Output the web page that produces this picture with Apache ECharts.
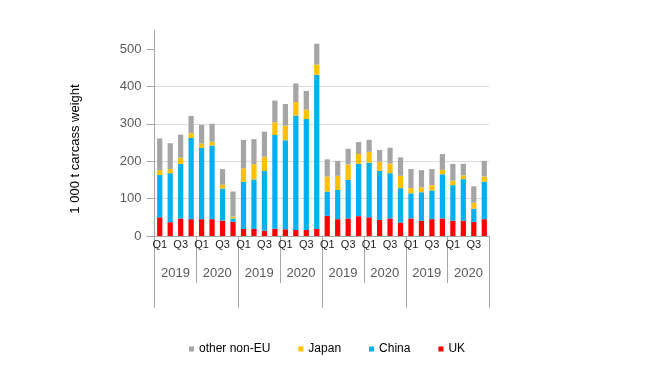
<!DOCTYPE html>
<html>
<head>
<meta charset="utf-8">
<script src="https://cdn.jsdelivr.net/npm/echarts@6/dist/echarts.min.js"></script>
<style>html,body{margin:0;padding:0;background:#fff;}#c{width:650px;height:366px;}</style>
</head>
<body>
<div id="c"></div>
<script>
var quarters = ['Q1','Q2','Q3','Q4','Q1','Q2','Q3','Q4','Q1','Q2','Q3','Q4','Q1','Q2','Q3','Q4','Q1','Q2','Q3','Q4','Q1','Q2','Q3','Q4','Q1','Q2','Q3','Q4','Q1','Q2','Q3','Q4'];
var years = ['2019','2020','2019','2020','2019','2020','2019','2020'];
var groups = ['', '', '', ''];
var yTicks = [0, 100, 200, 300, 400, 500];
var uk = [50,37,47,45,45,45,41,38, 19,19,14,19,18,16,16,19, 54,45,47,53,50,43,47,36, 47,41,45,47,41,41,38,45];
var china = [113,131,146,217,191,197,86,9, 126,132,160,251,238,306,297,412, 65,78,103,140,146,131,121,92, 67,76,77,118,95,111,35,100];
var japan = [13,11,16,13,11,10,10,5, 36,41,38,34,39,36,25,27, 40,38,41,26,29,25,26,33, 14,13,14,12,12,10,16,14];
var other = [85,69,62,46,50,48,42,67, 76,67,67,58,58,50,50,56, 46,40,42,32,32,31,42,49, 51,46,43,42,45,31,44,42];

var FONT = '"Liberation Sans", Arial, sans-serif';
var chart = echarts.init(document.getElementById('c'), null, {renderer: 'canvas'});
var axisGray = '#a6a6a6';
var barW = '50%';
chart.setOption({
  animation: false,
  textStyle: {fontFamily: FONT},
  grid: {left: 154.5, right: 160.5, top: 30.3, bottom: 130},
  legend: {
    left: 184, top: 338,
    icon: 'rect', itemWidth: 5, itemHeight: 5, itemGap: 28, itemTextGap: 5,
    textStyle: {fontSize: 12, color: '#000', fontFamily: FONT},
    data: ['other non-EU', 'Japan', 'China', 'UK']
  },
  graphic: [{
    type: 'text', x: 75, y: 149, rotation: Math.PI / 2,
    style: {text: '1 000 t carcass weight', fontSize: 13, fill: '#000', fontFamily: FONT, align: 'center', verticalAlign: 'middle'}
  }],
  xAxis: [{
    type: 'category', data: quarters, position: 'bottom',
    axisLine: {lineStyle: {color: axisGray}},
    axisTick: {show: false},
    axisLabel: {interval: 1, fontSize: 11, color: '#222', margin: 3, fontFamily: FONT}
  }, {
    type: 'category', data: years, position: 'bottom',
    axisLine: {show: false},
    axisTick: {show: true, length: 47, lineStyle: {color: axisGray}},
    axisLabel: {fontSize: 13, color: '#595959', margin: 31, fontFamily: FONT}
  }, {
    type: 'category', data: groups, position: 'bottom',
    axisLine: {show: false},
    axisTick: {show: true, length: 72, lineStyle: {color: axisGray}},
    axisLabel: {show: false}
  }],
  yAxis: {
    type: 'value', min: 0, max: 550, interval: 100,
    axisLine: {show: true, lineStyle: {color: axisGray}},
    axisTick: {show: true, length: 8, customValues: yTicks, lineStyle: {color: axisGray}},
    axisLabel: {fontSize: 13, color: '#595959', margin: 13, customValues: yTicks, fontFamily: FONT},
    splitLine: {show: true, showMaxLine: false, lineStyle: {color: '#d9d9d9'}}
  },
  series: [
    {name: 'UK', type: 'bar', stack: 'a', data: uk, barWidth: barW, itemStyle: {color: '#ff0000'}},
    {name: 'China', type: 'bar', stack: 'a', data: china, barWidth: barW, itemStyle: {color: '#00b0f0'}},
    {name: 'Japan', type: 'bar', stack: 'a', data: japan, barWidth: barW, itemStyle: {color: '#ffc000'}},
    {name: 'other non-EU', type: 'bar', stack: 'a', data: other, barWidth: barW, itemStyle: {color: '#a5a5a5'}}
  ]
});
</script>
</body>
</html>
